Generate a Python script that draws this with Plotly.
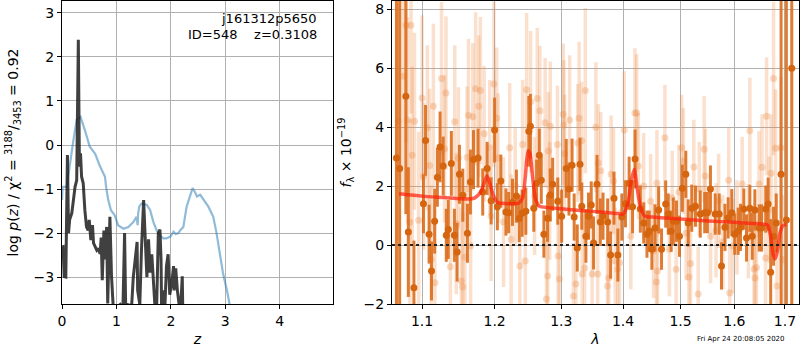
import plotly.graph_objects as go

# ---------------- left panel: p(z) and chi2 ----------------
pz_z = [0.00, 0.02, 0.04, 0.07, 0.10, 0.12, 0.14, 0.18, 0.21, 0.24, 0.27, 0.30, 0.32, 0.34, 0.36,
        0.39, 0.42, 0.45, 0.48, 0.50, 0.53, 0.56, 0.58, 0.61, 0.64, 0.67, 0.70, 0.72, 0.74, 0.77,
        0.79, 0.82, 0.84, 0.88, 0.91, 0.94, 1.00, 1.07, 1.12, 1.15, 1.17, 1.19, 1.28, 1.31, 1.34,
        1.38, 1.39, 1.43, 1.46, 1.50, 1.53, 1.56, 1.59, 1.62, 1.65, 1.68, 1.71, 1.74, 1.77, 1.80,
        1.82, 1.83, 1.86, 1.89, 1.92, 1.95, 1.98, 2.02, 2.05, 2.06, 2.09, 2.12, 2.15, 2.18, 2.21, 2.22]
pz_logp = [-2.32, -2.31, -2.99, -3.00, -0.23, -2.00, -1.70, -1.55, -1.25, -0.95, -0.80, 2.39, -0.49, -0.19, -0.72,
           -0.87, -1.48, -1.86, -1.94, -1.70, -2.16, -1.82, -2.23, -2.31, -2.39, -2.35, -2.47, -2.10, -3.07, -1.94,
           -2.60, -1.86, -3.60, -1.63, -2.98, -3.65, -3.70, -3.62, -3.70, -2.00, -3.70, -3.62, -3.65, -3.00, -2.60,
           -2.20, -3.30, -3.62, -2.39, -1.25, -2.14, -3.00, -2.14, -2.90, -2.48, -3.30, -3.70, -3.65, -2.00, -1.92,
           -2.60, -3.70, -3.30, -3.70, -2.75, -2.48, -3.40, -3.10, -2.75, -3.30, -2.80, -3.30, -3.60, -3.70, -2.98, -3.80]

chi_z = [0.00, 0.01, 0.086, 0.15, 0.21, 0.27, 0.34, 0.42, 0.51, 0.61, 0.70, 0.79, 0.81, 0.85, 0.90,
         0.97, 1.03, 1.13, 1.22, 1.31, 1.37, 1.39, 1.40, 1.42, 1.46, 1.56, 1.62, 1.68, 1.74, 1.80,
         1.86, 1.92, 1.99, 2.05, 2.09, 2.14, 2.17, 2.23, 2.29, 2.35, 2.40, 2.44, 2.48, 2.54, 2.60,
         2.69, 2.78, 2.84, 2.90, 2.96, 3.03, 3.09]
chi_val = [-1.25, -0.95, -0.95, -0.34, 0.11, 0.57, 0.64, 0.34, -0.04, -0.20, -0.49, -0.72, -0.95, -1.25, -1.48,
           -1.60, -1.82, -1.90, -1.86, -1.75, -1.63, -1.82, -1.55, -1.40, -1.33, -1.36, -1.48, -1.75, -1.94, -2.05,
           -2.12, -2.12, -2.08, -1.97, -2.02, -2.00, -1.94, -1.86, -1.40, -1.17, -0.98, -1.06, -1.17, -1.13, -1.25,
           -1.40, -1.63, -2.00, -2.46, -2.92, -3.30, -3.68]

# ---------------- right panel: spectrum ----------------
dark_lam = [1.0667, 1.0708, 1.0788, 1.0820, 1.0893, 1.1018, 1.1046, 1.1093, 1.1125, 1.1167, 1.1204, 1.1240,
            1.1282, 1.1324, 1.1351, 1.1393, 1.1435, 1.1472, 1.1504, 1.1551, 1.1615, 1.1657, 1.1700, 1.1764,
            1.1830, 1.1893, 1.1950, 1.2000, 1.2040, 1.2090, 1.2164, 1.2204, 1.2260, 1.2318, 1.2360, 1.2403,
            1.2458, 1.2503, 1.2527, 1.2578, 1.2620, 1.2661, 1.2691, 1.2731, 1.2787, 1.2830, 1.2866, 1.2945,
            1.3005, 1.3077, 1.3120, 1.3169, 1.3202, 1.3251, 1.3295, 1.3323, 1.3389, 1.3431, 1.3475, 1.3513,
            1.3569, 1.3623, 1.3667, 1.3743, 1.3792, 1.3848, 1.3913, 1.3979, 1.4040, 1.4102, 1.4160, 1.4203,
            1.4293, 1.4351, 1.4407, 1.4446, 1.4492, 1.4547, 1.4610, 1.4661, 1.4734, 1.4780, 1.4831, 1.4870,
            1.4927, 1.4980, 1.5032, 1.5094, 1.5138, 1.5202, 1.5270, 1.5358, 1.5440, 1.5491, 1.5547, 1.5636,
            1.5711, 1.5755, 1.5820, 1.5881, 1.5950, 1.6006, 1.6072, 1.6118, 1.6182, 1.6235, 1.6300, 1.6347,
            1.6398, 1.6484, 1.6530, 1.6614, 1.6661, 1.6712, 1.6770, 1.6824, 1.6922, 1.7030, 1.7140]
dark_flux = [2.95, 2.60, 5.05, 0.44, -1.45, 1.40, 3.55, 0.37, -0.88, 0.81, 2.30, 3.33,
             2.68, 0.33, 0.53, 2.77, 0.33, -0.24, 2.40, 1.69, 0.40, 2.14, 2.90, 2.95,
             1.80, 2.60, 1.50, 3.90, 1.30, 2.17, 1.12, 1.10, 1.45, 1.66, 0.90, 1.08,
             1.15, 3.86, 4.03, 1.25, 2.10, 3.05, 2.20, 0.37, 0.91, 1.70, 2.06, 1.49,
             0.98, 2.60, 1.90, 2.71, 0.95, -0.10, 2.74, 1.32, 0.30, 0.98, 1.36, 0.07,
             2.06, 0.78, 0.98, 0.78, -0.34, 1.59, -0.34, 0.95, 1.40, 2.10, 1.30, 2.92,
             1.22, 0.75, 0.37, 0.47, -0.14, 0.58, 1.19, -0.14, 1.39, 1.05, 0.47, 0.81,
             0.81, 0.30, 1.93, 2.40, 0.75, 1.25, 1.32, 1.05, 1.10, 1.10, 1.90, 1.05,
             1.05, -0.71, 0.60, 0.92, 1.10, 0.37, 0.47, 0.60, 1.22, 0.24, 1.25, 0.30,
             1.19, 0.58, 0.58, 1.22, 1.39, -0.92, 0.30, 0.75, 2.40, 0.85, 6.00]
dark_err = [9.0, 9.0, 4.0, 2.2, 1.6, 1.0, 1.2, 1.0, 1.0, 1.1, 1.0, 1.2,
            1.0, 0.9, 1.0, 1.1, 0.9, 1.0, 1.0, 0.9, 1.0, 1.1, 1.0, 1.0,
            0.8, 0.9, 0.8, 1.1, 0.8, 0.9, 0.8, 0.7, 0.8, 0.9, 0.8, 0.8,
            0.8, 1.2, 1.1, 0.8, 0.8, 0.9, 0.8, 0.8, 0.8, 0.9, 0.9, 0.8,
            0.9, 1.0, 0.9, 0.9, 0.8, 0.8, 0.9, 0.8, 0.9, 0.8, 0.8, 0.9,
            1.0, 0.8, 0.8, 0.8, 0.8, 0.9, 0.9, 0.8, 0.8, 0.9, 0.9, 1.0,
            0.8, 0.7, 0.8, 0.7, 0.7, 0.8, 0.8, 0.7, 0.8, 0.7, 0.7, 0.8,
            0.7, 0.7, 0.8, 0.8, 0.8, 0.8, 0.7, 0.8, 0.7, 0.7, 0.8, 0.7,
            0.7, 0.8, 0.8, 0.7, 0.8, 0.7, 0.8, 0.8, 0.7, 0.8, 0.8, 0.8,
            0.7, 0.8, 0.8, 0.8, 0.9, 1.8, 1.0, 1.0, 8.0, 9.0, 9.0]

light_lam = [1.0690, 1.0750, 1.0790, 1.0810, 1.0840, 1.0855, 1.0870, 1.0900, 1.0955, 1.1000, 1.1020, 1.1070,
             1.1100, 1.1120, 1.1150, 1.1170, 1.1260, 1.1300, 1.1320, 1.1380, 1.1440, 1.1460, 1.1490, 1.1530,
             1.1550, 1.1580, 1.1610, 1.1630, 1.1660, 1.1690, 1.1730, 1.1775, 1.1797, 1.1850, 1.1930, 1.1950,
             1.1990, 1.2030, 1.2050, 1.2130, 1.2220, 1.2240, 1.2300, 1.2370, 1.2410, 1.2450, 1.2470, 1.2530,
             1.2590, 1.2630, 1.2670, 1.2750, 1.2770, 1.2790, 1.2800, 1.2820, 1.2830, 1.2940, 1.2950, 1.2970,
             1.3030, 1.3040, 1.3050, 1.3130, 1.3190, 1.3230, 1.3260, 1.3280, 1.3320, 1.3330, 1.3370, 1.3380,
             1.3490, 1.3550, 1.3580, 1.3590, 1.3630, 1.3740, 1.3760, 1.3800, 1.3840, 1.3870, 1.3910, 1.3940,
             1.4020, 1.4130, 1.4200, 1.4230, 1.4260, 1.4350, 1.4470, 1.4520, 1.4580, 1.4590, 1.4570, 1.4720,
             1.4800, 1.4850, 1.4920, 1.4970, 1.5020, 1.5050, 1.5100, 1.5150, 1.5180, 1.5240, 1.5320, 1.5340,
             1.5430, 1.5450, 1.5550, 1.5650, 1.5700, 1.5780, 1.5891, 1.5910, 1.5970, 1.6050, 1.6150, 1.6270,
             1.6300, 1.6380, 1.6400, 1.6430, 1.6480, 1.6540, 1.6610, 1.6630, 1.6680, 1.6720, 1.6770, 1.6810,
             1.6840, 1.6920, 1.6960]
light_flux = [4.20, 5.73, 7.46, 4.24, 0.77, 7.46, 3.05, 4.20, 0.84, 4.99, 2.34, 3.98,
              2.70, -0.48, 4.71, -1.28, 5.65, 3.26, 5.16, -0.74, 4.18, 0.73, 2.95, -1.22,
              -1.42, -0.41, 2.98, 4.40, -0.03, 4.35, 5.30, 4.71, 5.24, 3.78, 3.30, 0.98,
              5.46, 4.30, 2.95, 0.78, 3.30, 0.20, 2.00, -0.71, 3.41, -0.54, 5.27, 4.86,
              1.66, 4.97, 4.56, 4.15, -1.83, -1.05, 3.19, 1.50, 4.03, 3.41, -0.37, -1.15,
              4.44, 4.07, 3.10, 4.24, -1.73, -1.32, 3.46, 4.30, 3.54, -0.98, -0.78, 5.24,
              -0.98, 4.00, -0.98, 2.78, 2.52, -1.39, -1.12, 2.40, 2.17, -0.54, -0.82, -0.60,
              3.90, 0.30, 4.48, 4.48, 2.68, 2.00, 1.49, -0.20, 2.10, -0.88, -1.25, 3.64,
              -0.14, 1.60, -0.82, 1.80, 3.30, 2.85, 0.40, -1.08, -0.63, 2.65, -1.66, 1.90,
              3.25, 2.34, 0.30, 0.50, 1.50, 0.10, 2.20, -1.63, -0.03, 0.60, 2.07, 0.47,
              3.88, -0.81, -1.12, -0.76, 2.07, 2.64, -0.44, 4.37, 1.20, 2.44, 5.65, 3.28,
              -1.39, 3.30, -0.50]
light_err = [4.0, 4.0, 4.0, 3.5, 3.5, 3.0, 3.0, 3.0, 3.0, 2.8, 2.5, 2.8,
             2.6, 2.5, 2.8, 2.5, 2.6, 2.5, 2.6, 2.4, 2.6, 2.4, 2.4, 2.5,
             2.5, 2.4, 2.4, 2.6, 2.4, 2.5, 2.6, 2.4, 2.5, 2.3, 2.3, 2.2,
             2.8, 2.4, 2.2, 2.2, 2.2, 2.2, 2.0, 2.2, 2.2, 2.2, 2.6, 2.4,
             2.0, 2.4, 2.2, 2.2, 2.0, 2.0, 2.0, 2.0, 2.2, 2.0, 2.0, 2.0,
             2.4, 2.2, 2.0, 2.2, 1.8, 2.0, 2.0, 2.6, 2.0, 2.0, 2.0, 2.8,
             2.0, 2.2, 2.0, 2.0, 2.0, 1.8, 1.8, 2.0, 1.8, 1.8, 1.8, 1.8,
             2.0, 1.8, 2.2, 2.0, 1.8, 1.8, 1.6, 1.6, 1.8, 1.6, 1.6, 1.8,
             1.6, 1.6, 1.6, 1.6, 1.8, 1.8, 1.6, 1.6, 1.6, 1.6, 1.6, 1.6,
             1.8, 1.6, 1.6, 1.6, 1.6, 1.6, 1.8, 1.6, 1.6, 1.6, 1.6, 1.6,
             1.8, 1.6, 1.6, 1.6, 1.8, 1.8, 1.6, 2.0, 1.8, 2.0, 2.6, 2.0,
             2.0, 2.4, 2.2]

model_lam = [1.070, 1.100, 1.130, 1.160, 1.172, 1.180, 1.185, 1.189, 1.193, 1.198, 1.204, 1.215,
             1.235, 1.241, 1.245, 1.249, 1.252, 1.256, 1.260, 1.266, 1.280, 1.300, 1.330, 1.360,
             1.390, 1.400, 1.408, 1.414, 1.419, 1.424, 1.430, 1.437, 1.450, 1.500, 1.550, 1.600,
             1.650, 1.665, 1.671, 1.676, 1.680, 1.685, 1.690, 1.696, 1.703]
model_flux = [1.74, 1.66, 1.61, 1.56, 1.60, 1.80, 2.10, 2.35, 2.10, 1.70, 1.45, 1.41,
              1.42, 1.60, 2.30, 3.20, 3.10, 2.30, 1.60, 1.32, 1.27, 1.23, 1.17, 1.13,
              1.07, 1.05, 1.40, 2.20, 2.57, 1.90, 1.25, 0.98, 0.95, 0.88, 0.82, 0.77,
              0.72, 0.68, 0.30, -0.30, -0.47, -0.20, 0.40, 0.66, 0.70]

zero_lam = [1.061, 1.729]
zero_flux = [0.0, 0.0]

fig = go.Figure()

fig.add_trace(go.Scatter(x=chi_z, y=chi_val, mode="lines",
                         line=dict(color="rgba(31,119,180,0.5)", width=2.2),
                         xaxis="x", yaxis="y", showlegend=False))
fig.add_trace(go.Scatter(x=pz_z, y=pz_logp, mode="lines",
                         line=dict(color="rgba(30,30,30,0.85)", width=3),
                         xaxis="x", yaxis="y", showlegend=False))

fig.add_trace(go.Scatter(x=light_lam, y=light_flux, mode="markers",
                         marker=dict(color="rgba(235,140,70,0.32)", size=7),
                         error_y=dict(type="data", array=light_err, width=0, thickness=3.5,
                                      color="rgba(235,140,70,0.27)"),
                         xaxis="x2", yaxis="y2", showlegend=False))
fig.add_trace(go.Scatter(x=dark_lam, y=dark_flux, mode="markers",
                         marker=dict(color="#d5650f", size=7),
                         error_y=dict(type="data", array=dark_err, width=0, thickness=3,
                                      color="rgba(220,110,30,0.9)"),
                         xaxis="x2", yaxis="y2", showlegend=False))
fig.add_trace(go.Scatter(x=model_lam, y=model_flux, mode="lines",
                         line=dict(color="rgba(255,30,10,0.7)", width=3.5, shape="spline", smoothing=0.6),
                         xaxis="x2", yaxis="y2", showlegend=False))
fig.add_trace(go.Scatter(x=zero_lam, y=zero_flux, mode="lines",
                         line=dict(color="#222222", width=2, dash="dot"),
                         xaxis="x2", yaxis="y2", showlegend=False))

font = "DejaVu Sans, sans-serif"
axcommon = dict(showline=True, linecolor="black", linewidth=1, mirror=True,
                ticks="outside", ticklen=4, tickcolor="black", automargin=False,
                showgrid=True, gridcolor="#b0b0b0", gridwidth=1, zeroline=False,
                tickfont=dict(family=font, size=14, color="black"))

fig.update_layout(
    width=800, height=350,
    margin=dict(l=0, r=0, t=0, b=0, autoexpand=False),
    paper_bgcolor="white", plot_bgcolor="white",
    font=dict(family=font, color="black"),
    xaxis=dict(domain=[62/800, 333/800], range=[0, 4.98], tickvals=[0, 1, 2, 3, 4],
               anchor="y",
               title=dict(text="<i>z</i>", font=dict(size=14), standoff=6), **axcommon),
    yaxis=dict(domain=[46/350, 349/350], range=[-3.61, 3.27], tickvals=[-3, -2, -1, 0, 1, 2, 3],
               anchor="x",
               title=dict(text="log <i>p</i>(<i>z</i>) / χ<sup>2</sup> = <sup>3188</sup>/<sub>3453</sub> = 0.92",
                          font=dict(size=14), standoff=11), **axcommon),
    xaxis2=dict(domain=[392/800, 799/800], type="log",
                range=[0.02572, 0.23779],
                tickvals=[1.1, 1.2, 1.3, 1.4, 1.5, 1.6, 1.7],
                ticktext=["1.1", "1.2", "1.3", "1.4", "1.5", "1.6", "1.7"],
                anchor="y2",
                title=dict(text="<i>λ</i>", font=dict(size=14), standoff=6), **axcommon),
    yaxis2=dict(domain=[46/350, 349/350], range=[-2, 8.28], tickvals=[-2, 0, 2, 4, 6, 8],
                anchor="x2",
                title=dict(text="<i>f</i><sub>λ</sub> × 10<sup>−19</sup>", font=dict(size=14), standoff=8),
                **axcommon),
    annotations=[
        dict(text="j161312p5650", x=319/800, y=(350-19)/350, xref="paper", yref="paper",
             xanchor="right", yanchor="middle", showarrow=False, font=dict(size=13, family=font)),
        dict(text="ID=548\u00a0\u00a0\u00a0\u00a0z=0.3108", x=319/800, y=(350-35)/350, xref="paper", yref="paper",
             xanchor="right", yanchor="middle", showarrow=False, font=dict(size=13, family=font)),
        dict(text="Fri Apr 24 20:08:05 2020", x=787/800, y=(350-339)/350, xref="paper", yref="paper",
             xanchor="right", yanchor="middle", showarrow=False, font=dict(size=7, family=font)),
    ],
)

fig.write_html("out.html", config={"displayModeBar": False},
               post_script="document.body.style.margin='0';document.body.style.padding='0';")
